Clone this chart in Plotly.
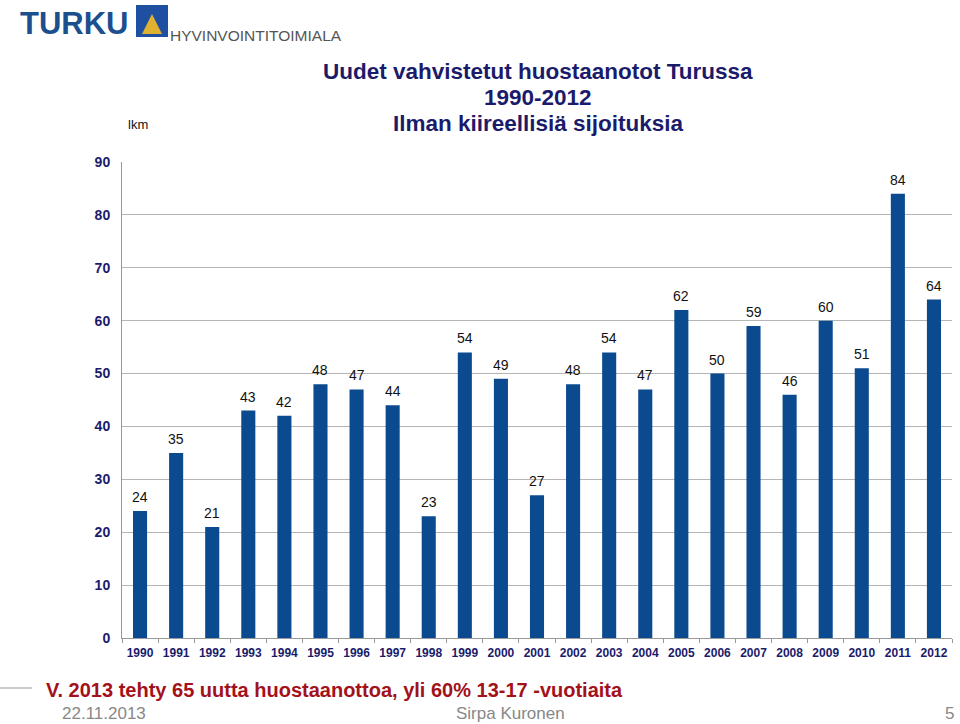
import plotly.graph_objects as go

years = [str(y) for y in range(1990, 2013)]
values = [24, 35, 21, 43, 42, 48, 47, 44, 23, 54, 49, 27, 48, 54, 47, 62, 50, 59, 46, 60, 51, 84, 64]
y_ticks = [0, 10, 20, 30, 40, 50, 60, 70, 80, 90]

W, H = 960, 724
ML, MR, MT, MB = 122, 8, 162, 86
PW, PH = W - ML - MR, H - MT - MB
NAVY = "#1b1b6b"
BAR = "#0b4a8f"

def px(x):
    return (x - ML) / PW

def py(y):
    return (H - MB - y) / PH

fig = go.Figure()
fig.add_trace(go.Bar(
    x=years, y=values, marker_color=BAR, marker_line_width=0,
    showlegend=False, hoverinfo="x+y",
))

# value labels above bars (category index positions on the category axis)
for i, v in enumerate(values):
    fig.add_annotation(
        x=i, y=v, xref="x", yref="y", text=str(v), showarrow=False,
        yanchor="bottom", yshift=4,
        font=dict(family="Arial, Liberation Sans", size=14, color="#111111"),
    )

def ann(text, x, y, size, color, bold=False, xanchor="left", yanchor="middle"):
    fig.add_annotation(
        text=f"<b>{text}</b>" if bold else text,
        x=px(x), y=py(y), xref="paper", yref="paper",
        xanchor=xanchor, yanchor=yanchor, showarrow=False,
        font=dict(family="Arial, Liberation Sans", size=size, color=color),
    )

# title
ann("Uudet vahvistetut huostaanotot Turussa", 538, 71, 22.5, NAVY, True, "center")
ann("1990-2012", 538, 97, 22.5, NAVY, True, "center")
ann("Ilman kiireellisiä sijoituksia", 538, 123, 22.5, NAVY, True, "center")
ann("lkm", 126, 124, 13, "#111111")

# header / logo
ann("TURKU", 18, 24, 31, "#1c4f8e", True)
fig.add_shape(type="rect", xref="paper", yref="paper",
              x0=px(136), x1=px(168), y0=py(37), y1=py(5),
              fillcolor="#1f4fa0", line_width=0, layer="above")
fig.add_shape(type="path", xref="paper", yref="paper",
              path=f"M {px(142)} {py(34)} L {px(152)} {py(14)} L {px(162)} {py(34)} Z",
              fillcolor="#e0b030", line_width=0, layer="above")
ann("HYVINVOINTITOIMIALA", 168, 35, 15.5, "#555555")

# footer
fig.add_shape(type="line", xref="paper", yref="paper",
              x0=px(0), x1=px(32), y0=py(688), y1=py(688),
              line=dict(color="#cccccc", width=2))
ann("V. 2013 tehty 65 uutta huostaanottoa, yli 60% 13-17 -vuotiaita", 44, 690, 20, "#a3111a", True)
ann("22.11.2013", 60, 714, 17, "#888888")
ann("Sirpa Kuronen", 510, 714, 17, "#888888", xanchor="center")
ann("5", 956, 714, 17, "#888888", xanchor="right")

fig.update_layout(
    width=W, height=H,
    margin=dict(l=ML, r=MR, t=MT, b=MB, autoexpand=False),
    paper_bgcolor="white", plot_bgcolor="white",
    bargap=0.61,
    font=dict(family="Arial, Liberation Sans"),
    xaxis=dict(
        type="category", showline=True, linecolor="#999999", linewidth=1,
        ticks="outside", tickson="boundaries", ticklen=4, tickcolor="#999999",
        tickvals=years, ticktext=[f"<b>{y}</b>" for y in years],
        tickfont=dict(size=12, color=NAVY, family="Arial, Liberation Sans"),
        showgrid=False, automargin=False, ticklabelstandoff=4,
        range=[-0.5, len(years) - 0.5],
    ),
    yaxis=dict(
        range=[0, 90], tickvals=y_ticks, ticktext=[f"<b>{v}</b>" for v in y_ticks],
        showline=True, linecolor="#999999",
        gridcolor="#b5b5b5", gridwidth=1, zeroline=False,
        tickfont=dict(size=14, color=NAVY, family="Arial, Liberation Sans"),
        ticklabelstandoff=8, automargin=False,
    ),
)

fig.write_html("out.html", post_script="document.body.style.margin='0';",
               config={"displayModeBar": False})
